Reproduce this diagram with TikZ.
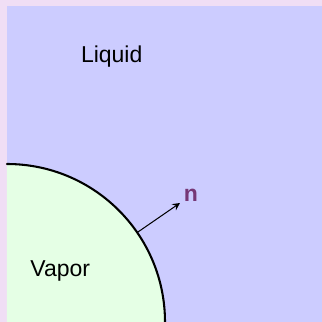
\documentclass[tikz,border=0pt]{standalone}
\usepackage{fontspec}
\setmainfont{Liberation Sans}
\definecolor{bgPink}{RGB}{240,222,245}
\definecolor{liquidBlue}{RGB}{204,204,255}
\definecolor{vaporGreen}{RGB}{229,255,229}
\definecolor{normalPurple}{RGB}{118,55,118}

\begin{document}
\begin{tikzpicture}[
  x=.435pt, y=.435pt,
  font=\fontsize{10}{12}\selectfont,
  line cap=round, line join=round,
  >=stealth,
  interface/.style={draw=black, line width=.9pt},
  normal arrow/.style={draw=black, line width=.45pt, ->}
]

% Page background and the liquid region.
\fill[bgPink] (0,0) rectangle (322,322);
\useasboundingbox (0,0) rectangle (322,322);
\fill[liquidBlue] (7,0) rectangle (322,316);

% Vapor bubble, centred on the lower left corner.
\coordinate (centre) at (7,0);
\fill[vaporGreen] (7,0) -- (7,158) arc[start angle=90, end angle=0, radius=158] -- cycle;
\draw[interface] (7,158) arc[start angle=90, end angle=0, radius=158];

\node[anchor=base] (liquid) at (111.7,259.3) {Liquid};
\node[anchor=base] (vapor) at (60.3,46) {Vapor};

% Outward normal on the interface.
\coordinate (foot) at ([shift={(centre)}]34.5:158);
\coordinate (tip) at (180,119);
\draw[normal arrow] (foot) -- (tip);
\node[anchor=base, text=normalPurple, font=\fontsize{10}{12}\selectfont\bfseries]
  (normal) at (191,121) {n};
\end{tikzpicture}
\end{document}
